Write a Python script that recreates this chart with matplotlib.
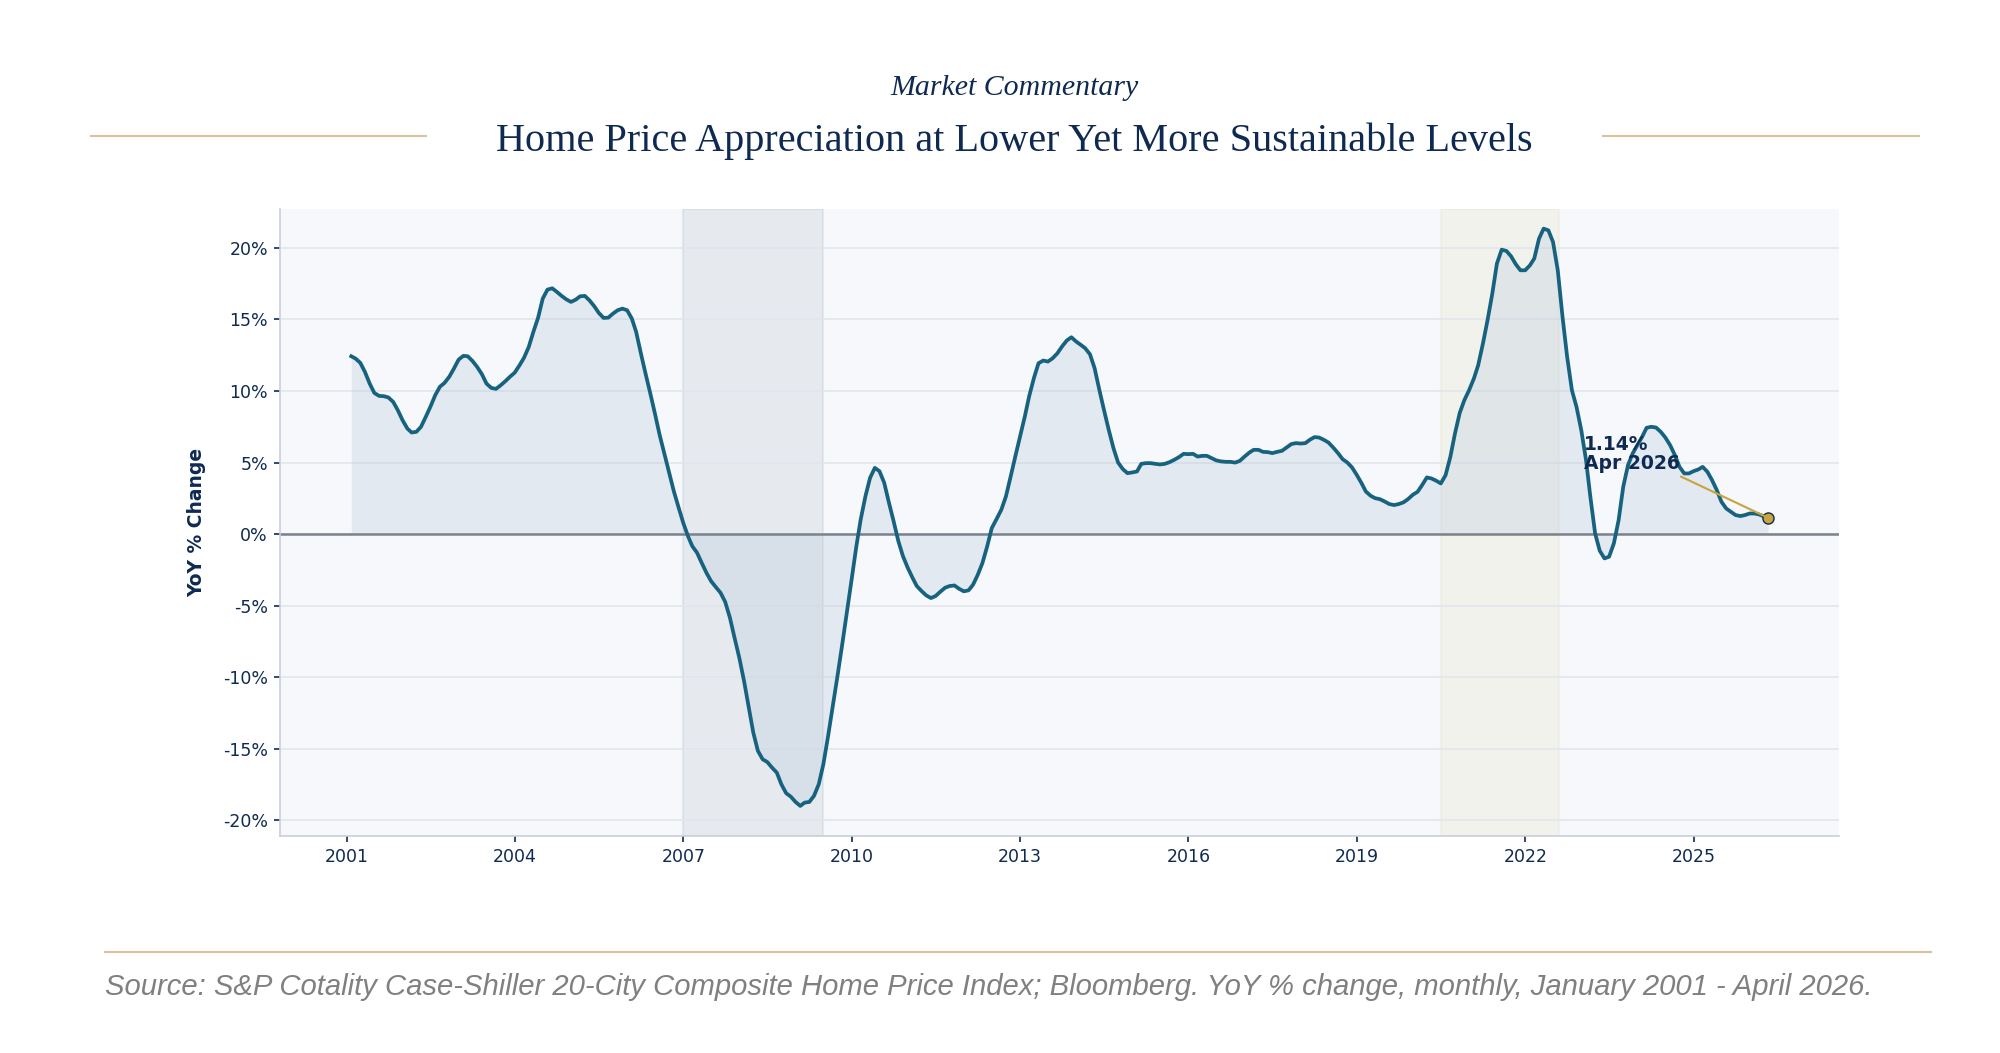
import numpy as np
import pandas as pd
import matplotlib
matplotlib.use("Agg")
import matplotlib.pyplot as plt
import matplotlib.dates as mdates
from matplotlib.lines import Line2D
from matplotlib.ticker import FuncFormatter, MultipleLocator

# monthly YoY % change, Case-Shiller 20-City
yoy_2001 = [12.43, 12.27, 11.97, 11.34, 10.52, 9.87, 9.66, 9.64, 9.55, 9.24, 8.66, 7.96]
yoy_2002 = [7.38, 7.10, 7.15, 7.50, 8.20, 8.90, 9.70, 10.30, 10.57, 11.00, 11.57, 12.20]
yoy_2003 = [12.46, 12.43, 12.10, 11.69, 11.18, 10.52, 10.22, 10.15, 10.40, 10.69, 11.00, 11.29]
yoy_2004 = [11.80, 12.32, 13.08, 14.13, 15.13, 16.46, 17.09, 17.18, 16.93, 16.65, 16.41, 16.23]
yoy_2005 = [16.39, 16.62, 16.65, 16.34, 15.93, 15.46, 15.11, 15.13, 15.41, 15.65, 15.76, 15.65]
yoy_2006 = [15.06, 14.13, 12.62, 11.22, 9.83, 8.43, 6.92, 5.60, 4.30, 3.00, 1.90, 0.80]
yoy_2007 = [-0.14, -0.84, -1.30, -2.00, -2.70, -3.28, -3.70, -4.10, -4.73, -5.84, -7.24, -8.64]
yoy_2008 = [-10.27, -12.00, -13.87, -15.15, -15.74, -15.93, -16.32, -16.67, -17.49, -18.11, -18.35, -18.72]
yoy_2009 = [-19.00, -18.77, -18.72, -18.30, -17.49, -16.09, -14.11, -12.00, -9.92, -7.70, -5.49, -3.17]
yoy_2010 = [-0.84, 1.02, 2.65, 3.93, 4.63, 4.40, 3.59, 2.19, 0.91, -0.49, -1.54, -2.35]
yoy_2011 = [-3.05, -3.63, -3.98, -4.28, -4.47, -4.33, -4.03, -3.75, -3.63, -3.59, -3.82, -4.00]
yoy_2012 = [-3.93, -3.54, -2.84, -2.03, -0.86, 0.42, 1.05, 1.70, 2.63, 4.03, 5.42, 6.82]
yoy_2013 = [8.22, 9.62, 10.90, 11.94, 12.13, 12.06, 12.29, 12.64, 13.11, 13.53, 13.76, 13.46]
yoy_2014 = [13.22, 12.99, 12.57, 11.60, 10.08, 8.68, 7.29, 6.00, 5.00, 4.54, 4.26, 4.31]
yoy_2015 = [4.38, 4.91, 4.96, 4.96, 4.91, 4.87, 4.91, 5.03, 5.19, 5.38, 5.61, 5.59]
yoy_2016 = [5.61, 5.42, 5.47, 5.47, 5.31, 5.15, 5.08, 5.05, 5.05, 5.00, 5.12, 5.42]
yoy_2017 = [5.70, 5.89, 5.89, 5.75, 5.73, 5.66, 5.75, 5.82, 6.05, 6.29, 6.36, 6.33]
yoy_2018 = [6.36, 6.59, 6.78, 6.75, 6.59, 6.40, 6.05, 5.66, 5.24, 5.00, 4.66, 4.14]
yoy_2019 = [3.56, 2.98, 2.68, 2.51, 2.44, 2.28, 2.10, 2.03, 2.10, 2.22, 2.45, 2.75]
yoy_2020 = [2.96, 3.42, 3.96, 3.89, 3.73, 3.54, 4.12, 5.40, 7.03, 8.47, 9.36, 10.06]
yoy_2021 = [10.87, 11.80, 13.32, 14.95, 16.81, 18.91, 19.88, 19.79, 19.42, 18.86, 18.44, 18.44]
yoy_2022 = [18.79, 19.26, 20.65, 21.35, 21.23, 20.42, 18.44, 15.18, 12.39, 10.06, 8.89, 7.26]
yoy_2023 = [5.17, 2.61, 0.05, -1.16, -1.70, -1.58, -0.65, 0.98, 3.31, 4.82, 5.63, 6.22]
yoy_2024 = [6.80, 7.43, 7.50, 7.45, 7.15, 6.75, 6.22, 5.52, 4.70, 4.24, 4.24, 4.40]
yoy_2025 = [4.52, 4.70, 4.35, 3.77, 3.07, 2.26, 1.79, 1.56, 1.33, 1.26, 1.33, 1.44]
yoy_2026 = [1.44, 1.38, 1.25, 1.14]

# shaded periods
shade_periods = [("2007-01-01", "2009-07-01"), ("2020-07-01", "2022-08-10")]
shade_colors = ["#0f2a52", "#c5a84a"]
shade_alphas = [0.065, 0.075]

yoy = np.array(yoy_2001 + yoy_2002 + yoy_2003 + yoy_2004 + yoy_2005 + yoy_2006
               + yoy_2007 + yoy_2008 + yoy_2009 + yoy_2010 + yoy_2011 + yoy_2012
               + yoy_2013 + yoy_2014 + yoy_2015 + yoy_2016 + yoy_2017 + yoy_2018
               + yoy_2019 + yoy_2020 + yoy_2021 + yoy_2022 + yoy_2023 + yoy_2024
               + yoy_2025 + yoy_2026)
dates = pd.date_range("2001-01-31", periods=len(yoy), freq="ME")

NAVY = "#0f2a52"
TEAL = "#17637f"
GOLD = "#d8c49a"

fig = plt.figure(figsize=(20, 10.53), dpi=100)
fig.patch.set_facecolor("white")

# header
fig.text(0.507, 0.916, "Market Commentary", ha="center", va="center",
         family="Liberation Serif", style="italic", fontsize=21.5, color=NAVY)
fig.text(0.507, 0.866, "Home Price Appreciation at Lower Yet More Sustainable Levels",
         ha="center", va="center", family="Liberation Serif", fontsize=29, color=NAVY)
fig.add_artist(Line2D([0.0455, 0.213], [0.871, 0.871], color=GOLD, lw=1.5))
fig.add_artist(Line2D([0.8015, 0.9595], [0.871, 0.871], color=GOLD, lw=1.5))

# footer
fig.add_artist(Line2D([0.0525, 0.9655], [0.0962, 0.0962], color=GOLD, lw=1.5))
fig.text(0.0525, 0.0627,
         "Source: S&P Cotality Case-Shiller 20-City Composite Home Price Index; Bloomberg. "
         "YoY % change, monthly, January 2001 - April 2026.",
         ha="left", va="center", family="Liberation Sans", style="italic",
         fontsize=21.1, color="#808080")

ax = fig.add_axes([0.1402, 0.2061, 0.9195 - 0.1402, 0.8012 - 0.2061])
ax.set_facecolor("#f6f8fb")

for (s, e), c, a in zip(shade_periods, shade_colors, shade_alphas):
    ax.axvspan(pd.Timestamp(s), pd.Timestamp(e), color=c, alpha=a, lw=1.5, zorder=0.5)

ax.fill_between(dates, yoy, 0, color="#b7c9da", alpha=0.3, lw=0, zorder=1)
ax.plot(dates, yoy, color=TEAL, lw=2.7, zorder=3)
ax.axhline(0, color="#7b828c", lw=1.8, zorder=2)

# latest reading
last_date, last_val = dates[-1], yoy[-1]
ax.plot([last_date], [last_val], marker="o", ms=8, color="#c9a33e",
        mec=NAVY, mew=1.0, zorder=4)
ax.annotate(f"{last_val:.2f}%\n{last_date:%b %Y}", xy=(last_date, last_val),
            xytext=(pd.Timestamp("2023-01-20"), 4.3), ha="left", va="bottom",
            fontsize=13.5, fontweight="bold", color=NAVY, linespacing=1.0,
            arrowprops=dict(arrowstyle="-", color="#c9a33e", lw=1.5), zorder=5)

ax.set_ylim(-21.1, 22.7)
ax.yaxis.set_major_locator(MultipleLocator(5))
ax.yaxis.set_major_formatter(FuncFormatter(lambda v, p: f"{v:.0f}%"))
ax.xaxis.set_major_locator(mdates.YearLocator(3))
ax.xaxis.set_major_formatter(mdates.DateFormatter("%Y"))
ax.grid(axis="y", color="#e2e5eb", lw=1.2)
ax.set_axisbelow(True)

for side in ["top", "right"]:
    ax.spines[side].set_visible(False)
for side in ["left", "bottom"]:
    ax.spines[side].set_color("#c9ceda")
    ax.spines[side].set_linewidth(1.2)
ax.tick_params(axis="both", labelsize=12.5, labelcolor=NAVY, color=NAVY,
               length=4, width=1.2, pad=5)
ax.set_ylabel("YoY % Change", fontsize=13.5, fontweight="bold", color=NAVY, labelpad=12)

fig.savefig("out.png", dpi=100, facecolor="white")
